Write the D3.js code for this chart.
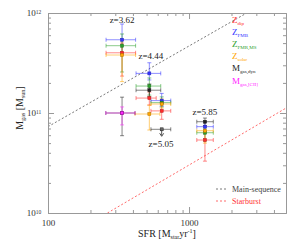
<!DOCTYPE html>
<html>
<head>
<meta charset="utf-8">
<script src="https://cdn.jsdelivr.net/npm/d3@7"></script>
<style>
  body { margin: 0; background: #fff; }
  text { font-family: "Liberation Serif", "DejaVu Serif", serif; }
</style>
</head>
<body>
<div class="chart"></div>
<script>
// values: [sfr, sfrLo, sfrHi, mgas, mgasLo, mgasHi]
var zDip   = [[335, 258, 418, 4.0e11, 2.34e11, 5.0e11],
              [523, 421, 585, 1.41e11, 1.2e11, 1.62e11],
              [640, 537, 742, 1.05e11, 8.65e10, 1.26e11],
              [1297, 1135, 1486, 5.37e10, 3.3e10, 6.3e10]];
var zFMB   = [[335, 258, 418, 5.4e11, 4.0e11, 7.76e11],
              [523, 421, 630, 2.49e11, 2.14e11, 3.18e11],
              [640, 537, 742, 1.33e11, 1.17e11, 1.57e11],
              [1297, 1135, 1486, 7.3e10, 6.6e10, 8.13e10]];
var zFMRMS = [[335, 258, 418, 4.71e11, 2.57e11, 6.17e11],
              [523, 421, 630, 1.86e11, 1.51e11, 2.24e11],
              [640, 537, 742, 1.27e11, 1.15e11, 1.45e11],
              [1297, 1135, 1486, 6.35e10, 5.25e10, 7.1e10]];
var zSolar = [[335, 258, 418, 3.8e11, 2.06e11, 5.37e11],
              [523, 414, 622, 9.77e10, 6.76e10, 1.2e11],
              [640, 537, 742, 1.23e11, 1.12e11, 1.38e11],
              [1297, 1135, 1486, 6.65e10, 5.0e10, 7.4e10]];
var mDyn   = [[335, 257, 414, 1.0e11, 5.93e10, 1.44e11],
              [523, 421, 630, 1.69e11, 1.45e11, 1.95e11],
              [1297, 1135, 1486, 8.18e10, 7.5e10, 8.9e10]];
var mDynLimit = [[640, 537, 742, 6.87e10]];
var mCII   = [[335, 257, 414, 1.0e11, 7.6e10, 1.15e11]];

var zLabels = [["z=3.62", 335, 8.5e11], ["z=4.44", 537, 3.74e11],
               ["z=5.05", 633, 4.9e10], ["z=5.85", 1297, 1.03e11]];

var mainSeq  = [[100, 7.3e10], [2565, 1e12]];
var starburst = [[264, 1e10], [4870, 1.12e11]];

var xMajor = [100, 1000];
var xMinor = [200, 300, 400, 500, 600, 700, 800, 900, 2000, 3000, 4000];
var yMajor = [1e10, 1e11, 1e12];
var yMinor = [2e10, 3e10, 4e10, 5e10, 6e10, 7e10, 8e10, 9e10,
              2e11, 3e11, 4e11, 5e11, 6e11, 7e11, 8e11, 9e11];

var series = [
  {data: zDip,   color: "#ff2a2a", name: "Z", sub: "dip"},
  {data: zFMB,   color: "#3333ff", name: "Z", sub: "FMB"},
  {data: zFMRMS, color: "#2ca02c", name: "Z", sub: "FMR,MS"},
  {data: zSolar, color: "#ffa500", name: "Z", sub: "solar"},
  {data: mDyn,   color: "#222222", name: "M", sub: "gas,dyn"},
  {data: mCII,   color: "#ff22ff", name: "M", sub: "gas,[CII]"}
];

var svg = d3.select(".chart").append("svg")
  .attr("width", 299).attr("height", 243);

var x = d3.scaleLog().domain([100, 4870]).range([48, 286]);
var y = d3.scaleLog().domain([1e10, 1e12]).range([213, 13]);
var axisColor = "#999";

svg.append("clipPath").attr("id", "plot")
  .append("rect").attr("x", 48).attr("y", 13).attr("width", 238).attr("height", 200);

// reference lines
var line = d3.line().x(function(d) { return x(d[0]); }).y(function(d) { return y(d[1]); });
svg.append("path").datum(mainSeq).attr("d", line)
  .attr("clip-path", "url(#plot)")
  .attr("fill", "none").attr("stroke", "#555").attr("stroke-width", 0.8)
  .attr("stroke-dasharray", "2,2");
svg.append("path").datum(starburst).attr("d", line)
  .attr("clip-path", "url(#plot)")
  .attr("fill", "none").attr("stroke", "#ff4444").attr("stroke-width", 0.8)
  .attr("stroke-dasharray", "2,2");

// axes, ticks inward
function styleAxis(g) {
  g.select(".domain").attr("stroke", axisColor);
  g.selectAll(".tick line").attr("stroke", axisColor);
  g.selectAll(".tick text").attr("fill", "#333")
    .style("font-family", "Liberation Serif").style("font-size", "9px");
}
function axes(gen, tr, vals, size, labels) {
  var g = svg.append("g").attr("transform", tr)
    .call(gen.tickValues(vals).tickSizeInner(-size).tickSizeOuter(0)
      .tickPadding(labels ? 5 : 0).tickFormat(labels ? null : ""));
  styleAxis(g);
  return g;
}
var xb = axes(d3.axisBottom(x), "translate(0,213)", xMajor, 6, true);
xb.selectAll(".tick text").text(function(d) { return d; }).attr("dy", "0.9em");
axes(d3.axisBottom(x), "translate(0,213)", xMinor, 3, false);
axes(d3.axisTop(x), "translate(0,13)", xMajor, 6, false);
axes(d3.axisTop(x), "translate(0,13)", xMinor, 3, false);
var yl = axes(d3.axisLeft(y), "translate(48,0)", yMajor, 6, true);
yl.selectAll(".tick text").each(function(d) {
  var t = d3.select(this).text("10").attr("dx", "-0.2em");
  t.append("tspan").attr("dy", "-0.45em").style("font-size", "5.5px")
    .text(Math.round(Math.log10(d)));
});
axes(d3.axisLeft(y), "translate(48,0)", yMinor, 3, false);
axes(d3.axisRight(y), "translate(286,0)", yMajor, 6, false);
axes(d3.axisRight(y), "translate(286,0)", yMinor, 3, false);

// axis titles
var xt = svg.append("text").attr("x", 167).attr("y", 237)
  .attr("text-anchor", "middle").attr("fill", "#222").style("font-size", "10px");
xt.append("tspan").text("SFR [M");
xt.append("tspan").attr("dy", 2).style("font-size", "6px").text("star");
xt.append("tspan").attr("dy", -2).text("yr");
xt.append("tspan").attr("dy", -4).style("font-size", "6px").text("-1");
xt.append("tspan").attr("dy", 4).text("]");

var yt = svg.append("text").attr("transform", "translate(23,108) rotate(-90)")
  .attr("text-anchor", "middle").attr("fill", "#222").style("font-size", "10px");
yt.append("tspan").text("M");
yt.append("tspan").attr("dy", 2).style("font-size", "6px").text("gas");
yt.append("tspan").attr("dy", -2).text(" [M");
yt.append("tspan").attr("dy", 2).style("font-size", "6px").text("sun");
yt.append("tspan").attr("dy", -2).text("]");

// error bars and markers
var marks = svg.append("g");
function errorBars(g, d, color) {
  var cx = x(d[0]), cy = y(d[3]);
  var s = g.append("g").attr("stroke", color).attr("stroke-opacity", 0.55).attr("stroke-width", 1);
  s.append("line").attr("x1", x(d[1])).attr("x2", x(d[2])).attr("y1", cy).attr("y2", cy);
  s.append("line").attr("x1", x(d[1])).attr("x2", x(d[1])).attr("y1", cy - 2).attr("y2", cy + 2);
  s.append("line").attr("x1", x(d[2])).attr("x2", x(d[2])).attr("y1", cy - 2).attr("y2", cy + 2);
  if (d.length > 4) {
    s.append("line").attr("x1", cx).attr("x2", cx).attr("y1", y(d[4])).attr("y2", y(d[5]));
    s.append("line").attr("x1", cx - 2).attr("x2", cx + 2).attr("y1", y(d[4])).attr("y2", y(d[4]));
    s.append("line").attr("x1", cx - 2).attr("x2", cx + 2).attr("y1", y(d[5])).attr("y2", y(d[5]));
  }
}
series.forEach(function(sr) {
  sr.data.forEach(function(d) { errorBars(marks, d, sr.color); });
});
mDynLimit.forEach(function(d) {
  errorBars(marks, d, "#222");
  var cx = x(d[0]), cy = y(d[3]);
  marks.append("line").attr("x1", cx).attr("x2", cx).attr("y1", cy).attr("y2", cy + 6)
    .attr("stroke", "#222").attr("stroke-width", 0.8);
  marks.append("path").attr("d", "M" + (cx - 2) + "," + (cy + 4) + "L" + cx + "," + (cy + 7) + "L" + (cx + 2) + "," + (cy + 4))
    .attr("fill", "none").attr("stroke", "#222").attr("stroke-width", 0.8);
});
series.forEach(function(sr) {
  marks.selectAll(null).data(sr.data).enter().append("rect")
    .attr("x", function(d) { return x(d[0]) - 1.5; })
    .attr("y", function(d) { return y(d[3]) - 1.5; })
    .attr("width", 3).attr("height", 3)
    .attr("fill", sr.color).attr("stroke", d3.color(sr.color).darker(1)).attr("stroke-width", 0.5);
});
marks.selectAll(null).data(mDynLimit).enter().append("rect")
  .attr("x", function(d) { return x(d[0]) - 1.5; })
  .attr("y", function(d) { return y(d[3]) - 1.5; })
  .attr("width", 3).attr("height", 3).attr("fill", "#666").attr("stroke", "#222").attr("stroke-width", 0.5);

// redshift labels
svg.selectAll(null).data(zLabels).enter().append("text")
  .attr("x", function(d) { return x(d[1]); })
  .attr("y", function(d) { return y(d[2]); })
  .attr("text-anchor", "middle").attr("dominant-baseline", "central")
  .attr("fill", "#222").style("font-size", "9px")
  .text(function(d) { return d[0]; });

// legend
var leg = svg.append("g");
series.forEach(function(sr, i) {
  var t = leg.append("text").attr("x", 232).attr("y", 23 + i * 12.1)
    .attr("fill", sr.color).style("font-size", "9px");
  t.append("tspan").text(sr.name);
  t.append("tspan").attr("dy", 2).style("font-size", "5px").text(sr.sub);
});
[["Main-sequence", "#444", "#555"], ["Starburst", "#ff3333", "#ff4444"]].forEach(function(d, i) {
  var yy = 189 + i * 12;
  leg.append("line").attr("x1", 216).attr("x2", 228).attr("y1", yy).attr("y2", yy)
    .attr("stroke", d[2]).attr("stroke-width", 0.8).attr("stroke-dasharray", "2,2");
  leg.append("text").attr("x", 232).attr("y", yy).attr("dominant-baseline", "central")
    .attr("fill", d[1]).style("font-size", "8px").text(d[0]);
});
</script>
</body>
</html>
